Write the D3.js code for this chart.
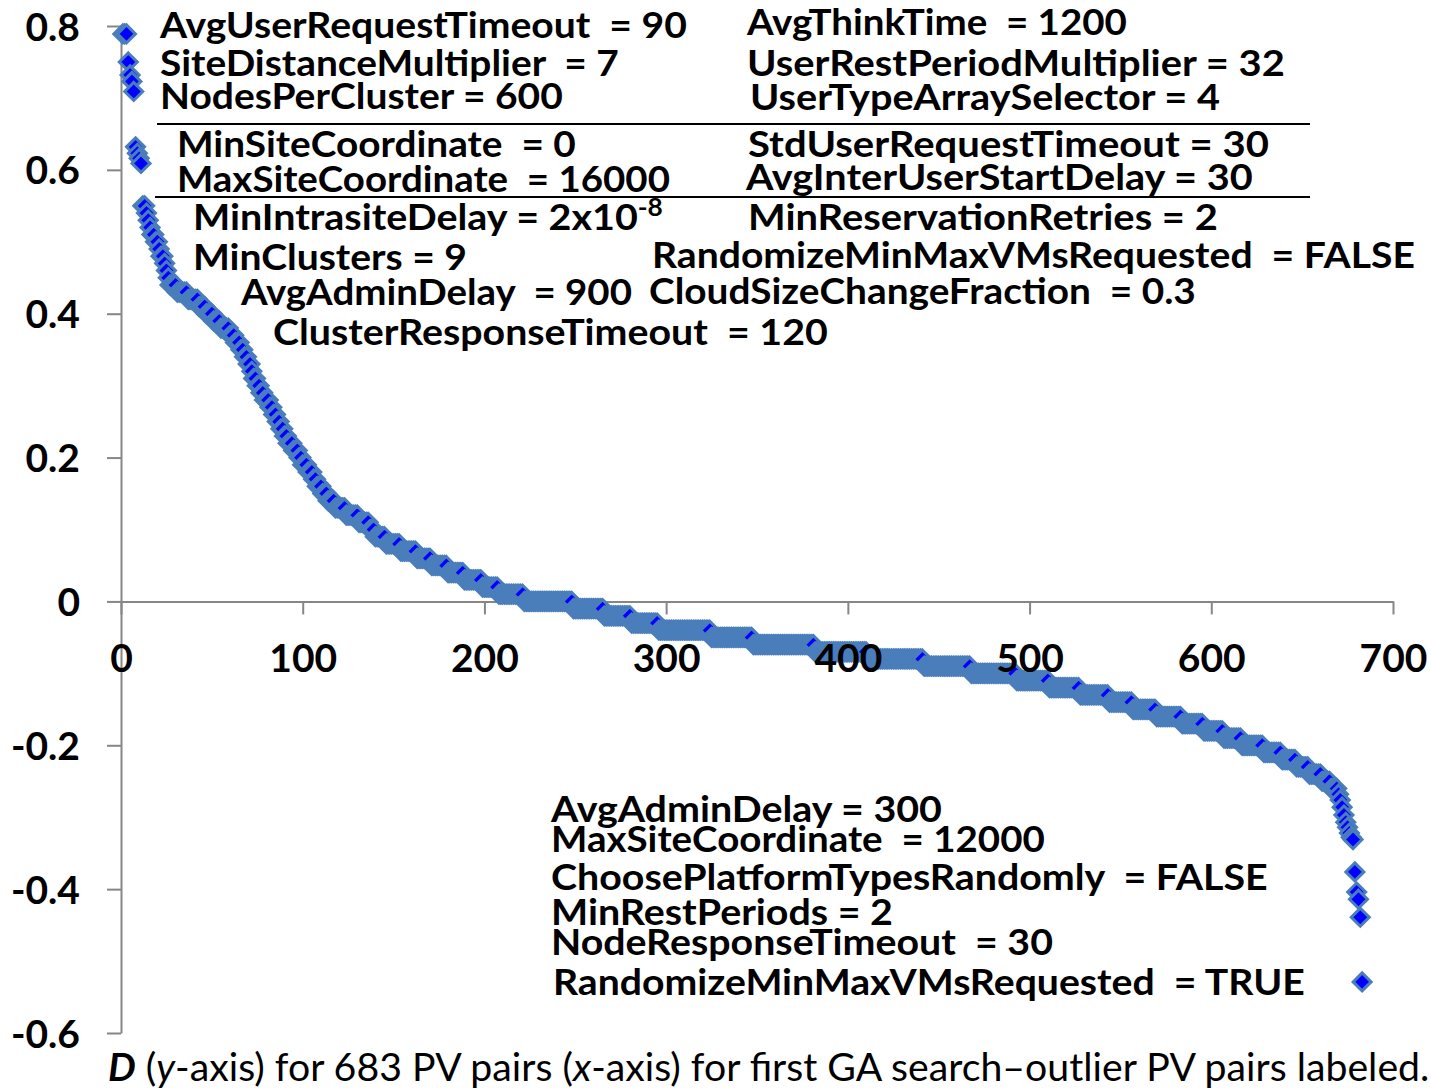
<!DOCTYPE html>
<html>
<head>
<meta charset="utf-8">
<script src="https://cdn.jsdelivr.net/npm/d3@7"></script>
<style>
body { margin: 0; background: #fff; }
svg { display: block; }
.note { font-family: Lato, "Open Sans", sans-serif; font-weight: 700; fill: #000; }
.tick text { font-family: Lato, "Open Sans", sans-serif; font-weight: 700; fill: #000; }
</style>
</head>
<body>
<svg id="chart" width="1431" height="1089"></svg>
<script>
// D value of each PV pair, sorted high -> low
const topValues = [0.789, 0.789, 0.789, 0.750, 0.732, 0.723, 0.709, 0.632, 0.623, 0.616, 0.609];
// plateau levels of the sorted curve and how many pairs sit on each
const levels = [0.55, 0.54, 0.53, 0.52, 0.51, 0.50, 0.49, 0.48, 0.47, 0.46, 0.45,
  0.44, 0.43, 0.42, 0.41, 0.40, 0.39, 0.38, 0.37, 0.36, 0.35,
  0.34, 0.33, 0.32, 0.31, 0.30, 0.29, 0.28, 0.27, 0.26, 0.25,
  0.24, 0.23, 0.22, 0.21, 0.20, 0.19, 0.18, 0.17, 0.16, 0.15,
  0.14, 0.13, 0.12, 0.11, 0.10, 0.09, 0.08, 0.07, 0.06, 0.05,
  0.04, 0.03, 0.02, 0.01, 0.00, -0.01, -0.02, -0.03, -0.04, -0.05,
  -0.06, -0.07, -0.08, -0.09, -0.10, -0.11, -0.12, -0.13, -0.14, -0.15,
  -0.16, -0.17, -0.18, -0.19, -0.20, -0.21, -0.22, -0.23, -0.24, -0.25, -0.26];
const levelCounts = [2, 1, 1, 1, 2, 2, 1, 2, 1, 1, 1,
  4, 6, 6, 4, 4, 4, 5, 3, 3, 2,
  2, 2, 1, 2, 2, 2, 3, 2, 2, 2,
  2, 2, 3, 3, 2, 3, 3, 2, 3, 3,
  4, 6, 7, 6, 3, 6, 8, 9, 8, 9,
  9, 10, 9, 14, 27, 17, 15, 15, 29, 23,
  34, 29, 31, 26, 25, 18, 17, 16, 13, 13,
  14, 12, 11, 10, 12, 10, 8, 7, 7, 5, 4];
const tailValues = [-0.268, -0.276, -0.286, -0.297, -0.307, -0.314, -0.322, -0.328, -0.331,
  -0.376, -0.404, -0.414, -0.439, -0.529];

const xTicks = [0, 100, 200, 300, 400, 500, 600, 700];
const yTicks = [-0.6, -0.4, -0.2, 0, 0.2, 0.4, 0.6, 0.8];

// outlier labels: text, left x, baseline y, width
const notes = [
  ["AvgUserRequestTimeout  = 90", 160, 38, 527],
  ["SiteDistanceMultiplier  = 7", 160, 76, 459],
  ["NodesPerCluster = 600", 160, 109, 403],
  ["MinSiteCoordinate  = 0", 177, 157, 399],
  ["MaxSiteCoordinate  = 16000", 177, 192, 493],
  ["MinClusters = 9", 193, 270, 274],
  ["AvgAdminDelay  = 900", 241, 305, 391],
  ["ClusterResponseTimeout  = 120", 273, 345, 555],
  ["AvgThinkTime  = 1200", 747, 35, 380],
  ["UserRestPeriodMultiplier = 32", 747, 76, 538],
  ["UserTypeArraySelector = 4", 750, 110, 470],
  ["StdUserRequestTimeout = 30", 748, 157, 521],
  ["AvgInterUserStartDelay = 30", 746, 190, 507],
  ["MinReservationRetries = 2", 748, 230, 470],
  ["RandomizeMinMaxVMsRequested  = FALSE", 652, 268, 763],
  ["CloudSizeChangeFraction  = 0.3", 649, 304, 547],
  ["AvgAdminDelay = 300", 551, 822, 391],
  ["MaxSiteCoordinate  = 12000", 551, 852, 494],
  ["ChoosePlatformTypesRandomly  = FALSE", 551, 890, 717],
  ["MinRestPeriods = 2", 551, 925, 342],
  ["NodeResponseTimeout  = 30", 551, 955, 502],
  ["RandomizeMinMaxVMsRequested  = TRUE", 553, 995, 752]
];

const values = topValues
  .concat(levels.flatMap((v, k) => Array(levelCounts[k]).fill(v)))
  .concat(tailValues);
const data = values.map((v, i) => ({ rank: i + 1, d: v }));

const svg = d3.select("#chart");
const x = d3.scaleLinear().domain([0, 700]).range([121, 1393]);
const y = d3.scaleLinear().domain([-0.6, 0.8]).range([1033, 26]);
const axisColor = "#868686";
const fmtY = d => d === 0 ? "0" : d.toFixed(1);

// axis lines first (markers cover them)
const yLine = svg.append("g")
  .attr("transform", "translate(" + x(0) + ",0)")
  .call(d3.axisLeft(y).tickValues(yTicks).tickSize(14).tickSizeOuter(0).tickFormat(""));
const xLine = svg.append("g")
  .attr("transform", "translate(0," + y(0) + ")")
  .call(d3.axisBottom(x).tickValues(xTicks).tickSize(13).tickSizeOuter(0).tickFormat(""));
[yLine, xLine].forEach(g => {
  g.select(".domain").attr("stroke", axisColor).attr("stroke-width", 2);
  g.selectAll(".tick line").attr("stroke", axisColor).attr("stroke-width", 2);
});

// diamond markers
const r = 9;
const diamond = "M0," + (-r) + "L" + r + ",0L0," + r + "L" + (-r) + ",0Z";
svg.append("g")
  .selectAll("path")
  .data(data)
  .join("path")
  .attr("d", diamond)
  .attr("transform", d => "translate(" + x(d.rank) + "," + y(d.d) + ")")
  .attr("fill", "#0000ff")
  .attr("stroke", "#4a7ebb")
  .attr("stroke-width", 3);

// tick labels on top of the markers
const yLab = svg.append("g")
  .attr("transform", "translate(" + x(0) + ",0)")
  .call(d3.axisLeft(y).tickValues(yTicks).tickSize(14).tickPadding(27).tickFormat(fmtY));
const xLab = svg.append("g")
  .attr("transform", "translate(0," + y(0) + ")")
  .call(d3.axisBottom(x).tickValues(xTicks).tickSize(13).tickPadding(30));
[yLab, xLab].forEach(g => {
  g.select(".domain").remove();
  g.selectAll(".tick line").remove();
  g.selectAll(".tick text").attr("font-size", 39);
});
yLab.selectAll(".tick text").attr("dy", "0.36em");

// squeeze text to the width it has in the original
function fit(t, x0, y0, w) {
  const len = t.node().getComputedTextLength();
  t.attr("transform", "translate(" + x0 + "," + y0 + ") scale(" + (w / len) + ",1)");
}

const noteG = svg.append("g").attr("class", "note").attr("font-size", 36);
notes.forEach(n => {
  const t = noteG.append("text").attr("xml:space", "preserve").text(n[0]);
  fit(t, n[1], n[2], n[3]);
});
// the one with a superscript
const sup = noteG.append("text");
sup.append("tspan").text("MinIntrasiteDelay = 2x10");
sup.append("tspan").attr("font-size", 24).attr("dy", -14).text("-8");
fit(sup, 193, 230, 470);

// separators
svg.append("line").attr("x1", 157).attr("x2", 1310).attr("y1", 124).attr("y2", 124)
  .attr("stroke", "#000").attr("stroke-width", 2);
svg.append("line").attr("x1", 155).attr("x2", 1310).attr("y1", 197).attr("y2", 197)
  .attr("stroke", "#000").attr("stroke-width", 2);

// caption
const cap = svg.append("text")
  .attr("font-family", "Lato, 'Open Sans', sans-serif")
  .attr("font-size", 38)
  .attr("fill", "#000")
  .attr("xml:space", "preserve");
cap.append("tspan").attr("font-weight", 700).attr("font-style", "italic").text("D");
cap.append("tspan").text(" (");
cap.append("tspan").attr("font-style", "italic").text("y");
cap.append("tspan").text("-axis) for 683 PV pairs (");
cap.append("tspan").attr("font-style", "italic").text("x");
cap.append("tspan").text("-axis) for first GA search\u2013outlier PV pairs labeled.");
fit(cap, 108, 1081, 1322);
</script>
</body>
</html>
